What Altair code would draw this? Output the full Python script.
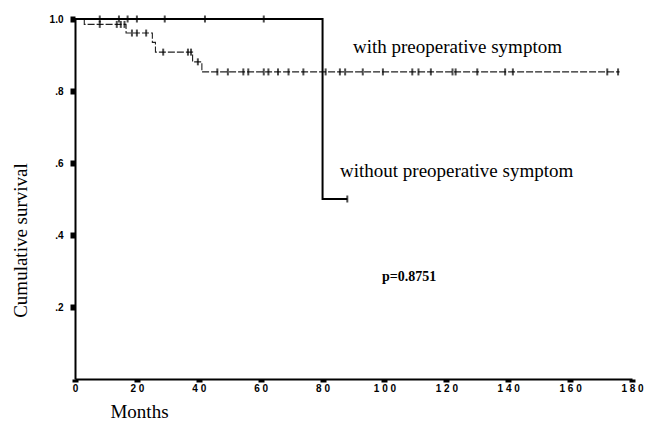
import altair as alt
import pandas as pd
import numpy as np

# Kaplan-Meier step curves (time in months, cumulative survival)
with_times = [0, 3, 16.5, 25, 26, 38, 41, 176]
with_surv = [1.0, 0.985, 0.961, 0.935, 0.908, 0.881, 0.853, 0.853]
with_censored = [8, 13.5, 14.8, 16, 18.4, 20, 23, 28.5, 36.5, 37.5, 39.7,
                 46, 49.4, 54.4, 56, 61, 62.5, 65.6, 69, 73.8, 81, 85.6,
                 87.3, 93, 99.5, 109, 111, 115, 122, 123, 130, 139, 141.5,
                 172, 175.5]

without_times = [0, 80, 88]
without_surv = [1.0, 0.5, 0.5]
without_censored = [8, 14.2, 17, 20, 29, 42, 61, 88]

x_ticks = [0, 20, 40, 60, 80, 100, 120, 140, 160, 180]
x_tick_labels = ["0", "2 0", "4 0", "6 0", "8 0", "1 0 0", "1 2 0", "1 4 0", "1 6 0", "1 8 0"]
y_ticks = [0.2, 0.4, 0.6, 0.8, 1.0]
y_tick_labels = [".2", ".4", ".6", ".8", "1.0"]


def level_at(times, surv, t):
    """Survival level of a step curve at time t."""
    i = int(np.searchsorted(np.array(times), t, side="right")) - 1
    return surv[max(i, 0)]


with_line = pd.DataFrame({"t": with_times, "s": with_surv})
without_line = pd.DataFrame({"t": without_times, "s": without_surv})
with_marks = pd.DataFrame({"t": with_censored,
                           "s": [level_at(with_times, with_surv, t) for t in with_censored]})
without_marks = pd.DataFrame({"t": without_censored,
                              "s": [level_at(without_times, without_surv, t) for t in without_censored]})


def js_array(items):
    return "[" + ",".join("'" + s + "'" for s in items) + "]"


x_scale = alt.Scale(domain=[0, 180], nice=False, zero=False)
y_scale = alt.Scale(domain=[0, 1], nice=False)

x_axis = alt.Axis(
    values=x_ticks,
    labelExpr=js_array(x_tick_labels) + "[round(datum.value/20)]",
    title="Months", titleX=64, titleY=32, titleAlign="center", titleBaseline="middle",
    titleFont="Liberation Serif", titleFontSize=19, titleFontWeight="normal", titleColor="black",
    labelFont="Liberation Sans", labelFontSize=10, labelFontWeight="bold", labelColor="black",
    labelPadding=1, labelFlush=False,
    tickSize=3, tickWidth=6, tickColor="black",
    domainColor="black", domainWidth=2, grid=False,
)
y_axis = alt.Axis(
    values=y_ticks,
    labelExpr=js_array(y_tick_labels) + "[round(datum.value*5)-1]",
    title="Cumulative survival", titleX=-55, titleY=221, titleAngle=-90,
    titleAlign="center", titleBaseline="middle",
    titleFont="Liberation Serif", titleFontSize=19, titleFontWeight="normal", titleColor="black",
    labelFont="Liberation Sans", labelFontSize=10, labelFontWeight="bold", labelColor="black",
    labelPadding=7, labelFlush=False,
    tickSize=5, tickWidth=6, tickColor="black",
    domainColor="black", domainWidth=2, grid=False,
)

base_x = alt.X("t:Q", scale=x_scale, axis=x_axis)
base_y = alt.Y("s:Q", scale=y_scale, axis=y_axis)

with_curve = alt.Chart(with_line).mark_line(
    interpolate="step-after", color="#222222", strokeWidth=1.1, strokeDash=[7, 2]
).encode(x=base_x, y=base_y)

without_curve = alt.Chart(without_line).mark_line(
    interpolate="step-after", color="black", strokeWidth=2
).encode(x=alt.X("t:Q", scale=x_scale), y=alt.Y("s:Q", scale=y_scale))

with_ticks = alt.Chart(with_marks).mark_tick(
    orient="vertical", color="black", size=7, thickness=2
).encode(x=alt.X("t:Q", scale=x_scale), y=alt.Y("s:Q", scale=y_scale))

without_ticks = alt.Chart(without_marks).mark_tick(
    orient="vertical", color="black", size=7, thickness=2
).encode(x=alt.X("t:Q", scale=x_scale), y=alt.Y("s:Q", scale=y_scale))

labels = pd.DataFrame({
    "text": ["with preoperative symptom", "without preoperative symptom"],
    "px": [278, 265],
    "py": [34, 158],
})
label_text = alt.Chart(labels).mark_text(
    align="left", baseline="alphabetic", font="Liberation Serif", fontSize=19, color="black"
).encode(x=alt.X("px:Q", scale=None), y=alt.Y("py:Q", scale=None), text="text:N")

p_text = alt.Chart(pd.DataFrame({"text": ["p=0.8751"]})).mark_text(
    align="left", baseline="alphabetic", font="Liberation Serif", fontSize=14,
    fontWeight="bold", color="black"
).encode(x=alt.value(307), y=alt.value(262), text="text:N")

chart = alt.layer(
    with_curve, without_curve, with_ticks, without_ticks, label_text, p_text
).properties(
    width=557, height=360,
    autosize=alt.AutoSizeParams(type="none"),
    padding={"left": 75, "top": 19, "right": 14, "bottom": 45},
    background="white",
).configure_view(stroke=None)

chart.save("out.html", embed_options={"renderer": "svg", "actions": False})
